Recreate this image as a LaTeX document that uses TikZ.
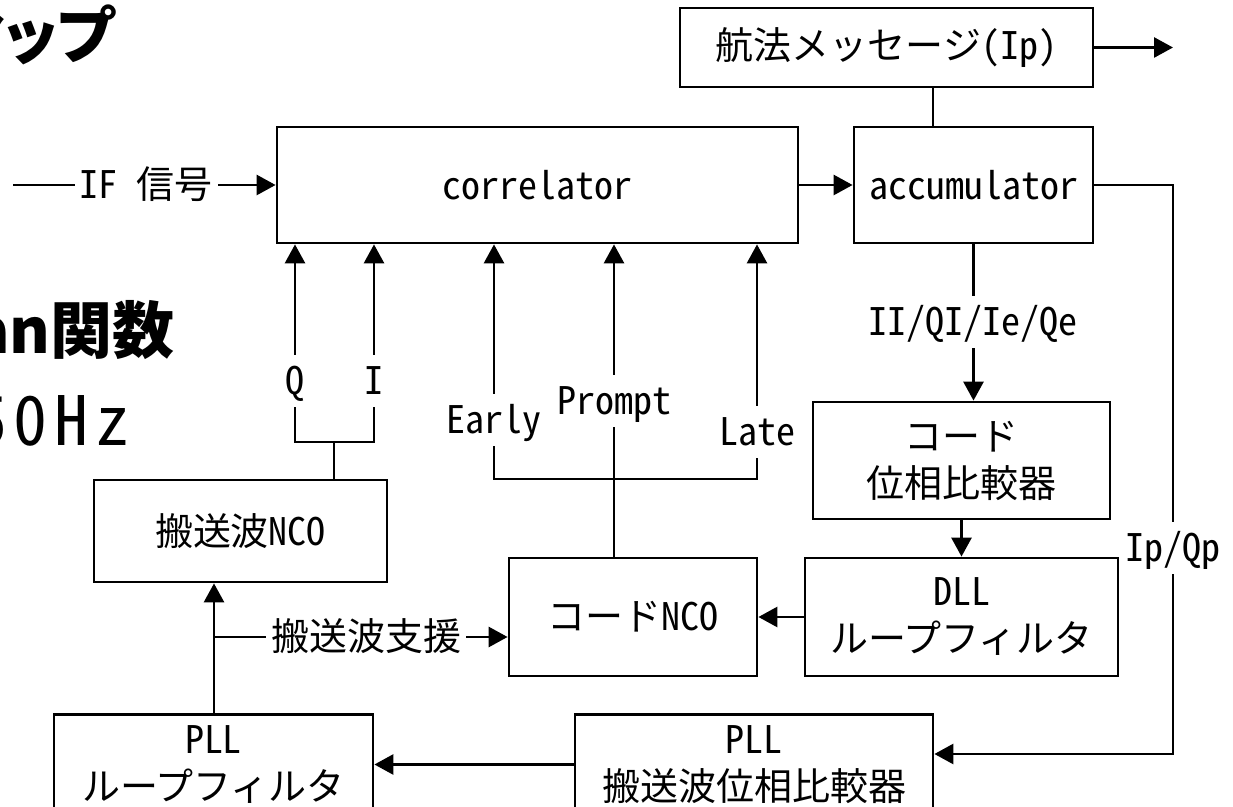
\documentclass[tikz,border=0pt]{standalone}
\usepackage{fontspec}
\setmainfont{Noto Sans CJK JP}
\newfontfamily\hw{Noto Sans CJK JP}[RawFeature=+hwid]
\newfontfamily\pal{Noto Sans CJK JP}[RawFeature=+palt]
\usetikzlibrary{arrows.meta}
\begin{document}
\begin{tikzpicture}[x=0.5pt,y=-0.5pt, line width=1.4pt,
  >={Triangle[length=9.5pt,width=10pt]},
  box/.style={draw, line width=1.4pt, inner sep=0pt, align=center,
    font=\fontsize{19}{23.5}\selectfont},
  lbl/.style={fill=white, inner xsep=2.5pt, inner ysep=0pt, minimum height=26pt,
    text height=16pt, text depth=2pt, font=\fontsize{19}{23.5}\selectfont},
  big/.style={anchor=east, inner sep=0pt}]
\useasboundingbox (0,0) rectangle (1233,807);
\clip (0,0) rectangle (1233,807);

% slide text fragments (cut by the picture's edge, as in the reference)
\node[big, font=\pal\bfseries\fontsize{31}{31}\selectfont] (t1) at (116,35) {マップ};
\node[big, font=\bfseries\fontsize{31}{31}\selectfont] (t2) at (176,330) {arctan関数};
\node[big, font=\hw\fontsize{34}{34}\selectfont] (t3) at (131,421) {5\kern3pt 0\kern3.5pt H\kern3.5pt z};

% boxes
\node[box, minimum width=206.5pt, minimum height=39.5pt] (nav) at (886.5,47.5) {航法メッセージ{\hw(Ip)}};
\node[box, minimum width=260.5pt, minimum height=58pt] (corr) at (537.5,185) {{\hw correlator}};
\node[box, minimum width=119.5pt, minimum height=58pt] (acc) at (973.5,185) {{\hw accumulator}};
\node[box, minimum width=148.5pt, minimum height=58.5pt] (comp) at (961.5,460.5) {コード\\位相比較器};
\node[box, minimum width=156.5pt, minimum height=59pt] (dll) at (961.5,617) {{\hw DLL}\\ループフィルタ};
\node[box, minimum width=124pt, minimum height=59pt] (cnco) at (633,617) {コード{\hw NCO}};
\node[box, minimum width=146.5pt, minimum height=51pt] (knco) at (240.5,531) {搬送波{\hw NCO}};
\node[box, minimum width=159.5pt, minimum height=50pt] (pllf) at (213.5,764.5) {{\hw PLL}\\ループフィルタ};
\node[box, minimum width=179pt, minimum height=50pt] (pllc) at (754,764.5) {{\hw PLL}\\搬送波位相比較器};

% helper coordinates
\coordinate (xN) at (933,0);
\coordinate (out) at (1173,47.5);
\coordinate (rc) at (1173,754);
\coordinate (ifs) at (13,185);
\coordinate (qij) at (334,442);
\coordinate (xQ) at (295,0);
\coordinate (xI) at (374,0);
\coordinate (xE) at (494,0);
\coordinate (xP) at (614,0);
\coordinate (xL) at (757,0);
\coordinate (ely) at (0,479);
\coordinate (br) at (214,637);
\coordinate (xK) at (214,0);

% connectors
\draw[->] (nav.east) -- (out);
\draw (xN |- nav.south) -- (xN |- acc.north);
\draw[->] (ifs) -- (corr.west);
\draw[->] (corr) -- (acc);
\draw[->] (acc.east) -| (rc) -- (pllc.east |- rc);
\draw[->] (acc.south) -- (comp.north -| acc.south);
\draw[->] (comp) -- (dll);
\draw[->] (dll) -- (cnco);
\draw (knco.north -| qij) -- (qij);
\draw[<->] (xQ |- corr.south) -- (xQ |- qij) -- (xI |- qij) -- (xI |- corr.south);
\draw[<->] (xE |- corr.south) -- (xE |- ely) -- (xL |- ely) -- (xL |- corr.south);
\draw[->] (xP |- cnco.north) -- (xP |- corr.south);
\draw[->] (xK |- pllf.north) -- (xK |- knco.south);
\draw[->] (br) -- (cnco.west |- br);
\draw[->] (pllc.west) -- (pllf.east);

% labels
\node[lbl] (lq) at (295,381) {{\hw Q}};
\node[lbl] (li) at (374,381) {{\hw I}};
\node[lbl] (le) at (494,420) {{\hw Early}};
\node[lbl] (lp) at (614,401) {{\hw Prompt}};
\node[lbl] (ll) at (757,432) {{\hw Late}};
\node[lbl] (lii) at (973,322) {{\hw II/QI/Ie/Qe}};
\node[lbl] (lipq) at (1173,548) {{\hw Ip/Qp}};
\node[lbl] (lif) at (146,185) {{\hw IF }信号};
\node[lbl] (lks) at (366,637) {搬送波支援};
\end{tikzpicture}
\end{document}
